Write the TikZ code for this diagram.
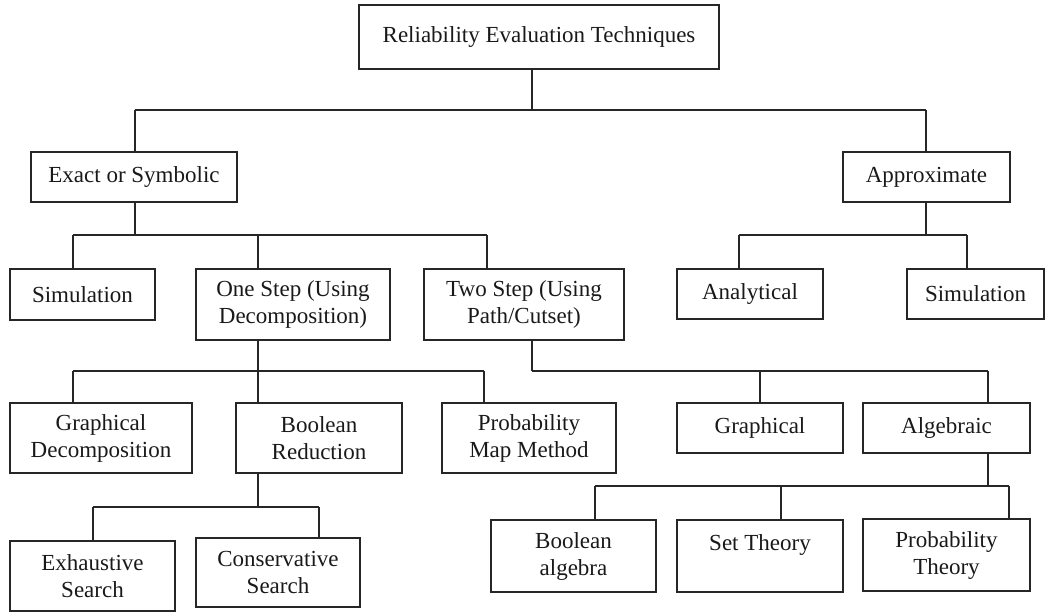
\documentclass[tikz,border=0pt]{standalone}
\usepackage{fontspec}
\setmainfont{Liberation Serif}
\begin{document}
\begin{tikzpicture}[x=1pt,y=-1pt,
  box/.style={draw=black!85, line width=1.3pt, align=center, inner sep=0pt,
    font=\fontsize{23}{27}\selectfont, text=black!90},
  conn/.style={draw=black!85, line width=1.3pt}]
\useasboundingbox (0,0) rectangle (1046,612);
% nodes
\node[box, minimum width=360pt, minimum height=64pt] (root) at (539,37) {Reliability Evaluation Techniques};
\node[box, minimum width=206pt, minimum height=50pt] (exact) at (134,177) {Exact or Symbolic};
\node[box, minimum width=167pt, minimum height=50pt] (approx) at (926.5,177) {Approximate};
\node[box, minimum width=145pt, minimum height=51pt] (simA) at (82.5,294.5) {Simulation};
\node[box, minimum width=194pt, minimum height=71pt] (onestep) at (293,304.5) {One Step (Using\\Decomposition)};
\node[box, minimum width=200pt, minimum height=71pt] (twostep) at (524,304.5) {Two Step (Using\\Path/Cutset)};
\node[box, minimum width=146pt, minimum height=50pt] (analytical) at (750,294) {Analytical};
\node[box, minimum width=137pt, minimum height=50pt] (simB) at (975.5,294) {Simulation};
\node[box, minimum width=182pt, minimum height=70pt] (graphdec) at (101,438) {Graphical\\Decomposition};
\node[box, minimum width=166pt, minimum height=70pt] (boolred) at (319,438) {Boolean\\Reduction};
\node[box, minimum width=174pt, minimum height=70pt] (probmap) at (529,438) {Probability\\Map Method};
\node[box, minimum width=166pt, minimum height=50pt] (graphical) at (760,428) {Graphical};
\node[box, minimum width=167pt, minimum height=50pt] (algebraic) at (946.5,428) {Algebraic};
\node[box, minimum width=165pt, minimum height=70pt] (exhaustive) at (92.5,576) {Exhaustive\\Search};
\node[box, minimum width=164pt, minimum height=69pt] (conservative) at (278,572.5) {Conservative\\Search};
\node[box, minimum width=165pt, minimum height=72pt] (boolalg) at (573.5,556) {Boolean\\algebra};
\node[box, minimum width=166pt, minimum height=72pt] (settheory) at (760,556) {Set Theory\\\mbox{}};
\node[box, minimum width=167pt, minimum height=72pt] (probtheory) at (946.5,555) {Probability\\Theory};
% bus coordinates
\coordinate (p1) at (532,110); \coordinate (c1a) at (135,110); \coordinate (c1b) at (926,110);
\coordinate (p2) at (135,235); \coordinate (c2a) at (73,235); \coordinate (c2b) at (258,235); \coordinate (c2c) at (487,235);
\coordinate (p3) at (926,235); \coordinate (c3a) at (739,235); \coordinate (c3b) at (967,235);
\coordinate (p4) at (258,371); \coordinate (c4a) at (73,371); \coordinate (c4b) at (258,371); \coordinate (c4c) at (484,371);
\coordinate (p5) at (532,371); \coordinate (c5a) at (760,371); \coordinate (c5b) at (988,371);
\coordinate (p6) at (258,507); \coordinate (c6a) at (93,507); \coordinate (c6b) at (319,507);
\coordinate (p7) at (988,486); \coordinate (c7a) at (595,486); \coordinate (c7b) at (781,486); \coordinate (c7c) at (1009,486);
% level 1
\draw[conn] (root.south -| p1) -- (p1);
\draw[conn] (c1a) -- (c1b);
\draw[conn] (c1a) -- (exact.north -| c1a);
\draw[conn] (c1b) -- (approx.north -| c1b);
% exact
\draw[conn] (exact.south -| p2) -- (p2);
\draw[conn] (c2a) -- (c2c);
\draw[conn] (c2a) -- (simA.north -| c2a);
\draw[conn] (c2b) -- (onestep.north -| c2b);
\draw[conn] (c2c) -- (twostep.north -| c2c);
% approx
\draw[conn] (approx.south -| p3) -- (p3);
\draw[conn] (c3a) -- (c3b);
\draw[conn] (c3a) -- (analytical.north -| c3a);
\draw[conn] (c3b) -- (simB.north -| c3b);
% one step
\draw[conn] (onestep.south -| p4) -- (p4);
\draw[conn] (c4a) -- (c4c);
\draw[conn] (c4a) -- (graphdec.north -| c4a);
\draw[conn] (c4b) -- (boolred.north -| c4b);
\draw[conn] (c4c) -- (probmap.north -| c4c);
% two step
\draw[conn] (twostep.south -| p5) -- (p5);
\draw[conn] (p5) -- (c5b);
\draw[conn] (c5a) -- (graphical.north -| c5a);
\draw[conn] (c5b) -- (algebraic.north -| c5b);
% boolean reduction
\draw[conn] (boolred.south -| p6) -- (p6);
\draw[conn] (c6a) -- (c6b);
\draw[conn] (c6a) -- (exhaustive.north -| c6a);
\draw[conn] (c6b) -- (conservative.north -| c6b);
% algebraic
\draw[conn] (algebraic.south -| p7) -- (p7);
\draw[conn] (c7a) -- (c7c);
\draw[conn] (c7a) -- (boolalg.north -| c7a);
\draw[conn] (c7b) -- (settheory.north -| c7b);
\draw[conn] (c7c) -- (probtheory.north -| c7c);
\end{tikzpicture}
\end{document}
